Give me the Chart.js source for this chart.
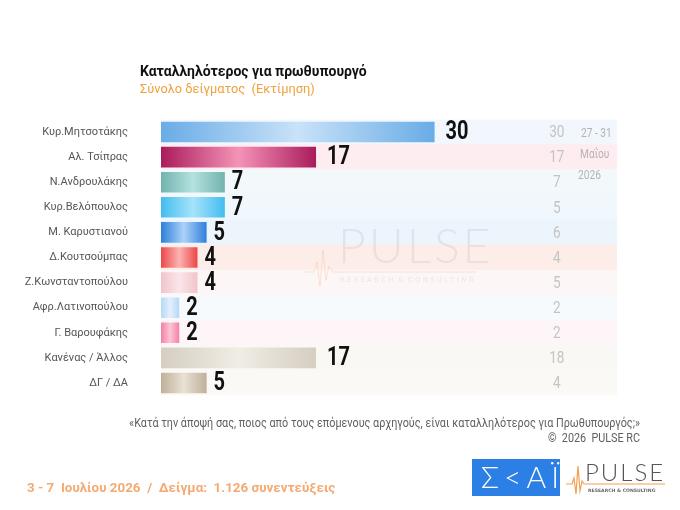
<!doctype html>
<html lang="el">
<head>
<meta charset="utf-8">
<title>Καταλληλότερος για πρωθυπουργό</title>
<script src="https://cdn.jsdelivr.net/npm/chart.js@4.4.1/dist/chart.umd.min.js"></script>
<style>
  html, body { margin: 0; padding: 0; background: #fff; }
  #wrap { width: 680px; height: 510px; position: relative; }
</style>
<script>
  // data
  var categories = ['Κυρ.Μητσοτάκης', 'Αλ. Τσίπρας', 'Ν.Ανδρουλάκης', 'Κυρ.Βελόπουλος', 'Μ. Καρυστιανού',
    'Δ.Κουτσούμπας', 'Ζ.Κωνσταντοπούλου', 'Αφρ.Λατινοπούλου', 'Γ. Βαρουφάκης', 'Κανένας / Άλλος', 'ΔΓ / ΔΑ'];
  var current = [30, 17, 7, 7, 5, 4, 4, 2, 2, 17, 5];      // 3-7 Ιουλίου 2026
  var previous = [30, 17, 7, 5, 6, 4, 5, 2, 2, 18, 4];     // 27-31 Μαΐου 2026
  var scaleMax = 50;
  var stripeValues = categories.map(function () { return scaleMax; });

  // bar colours: edge, centre
  var barEdge = ['#69ace6', '#a91c5c', '#72b3ae', '#43bdef', '#2f7fdb', '#ee4646',
    '#f0c4ca', '#b6d8f4', '#f481a5', '#d5cec1', '#bfb09a'];
  var barMid = ['#c9e2f8', '#f593b7', '#b4e2df', '#a6e3fa', '#abd2f8', '#fbb3b3',
    '#fbe6e9', '#e3f0fc', '#fcc5d6', '#f0ede5', '#e9e1d3'];
  var stripeColors = ['#f1f7fd', '#fdedf0', '#f3f8fb', '#f0f7fd', '#ecf4fc', '#fdede9',
    '#fdf6f7', '#f7fafd', '#fdf5f8', '#faf8f5', '#fbf9f5'];
</script>
</head>
<body>
<div id="wrap"><canvas id="myChart"></canvas></div>
<script>
  function barGradient(context) {
    var chart = context.chart;
    var i = context.dataIndex;
    if (!chart.chartArea) return barEdge[i];
    var xs = chart.scales.x;
    var x0 = xs.getPixelForValue(0);
    var x1 = xs.getPixelForValue(current[i]);
    var g = chart.ctx.createLinearGradient(x0, 0, x1, 0);
    g.addColorStop(0, barEdge[i]);
    g.addColorStop(0.5, barMid[i]);
    g.addColorStop(1, barEdge[i]);
    return g;
  }

  // text squeezed horizontally, to get a condensed look out of Roboto
  function narrowText(c, text, x, y, sx, align) {
    c.save();
    c.translate(x, y);
    c.scale(sx, 1);
    c.textAlign = align || 'left';
    c.fillText(text, 0, 0);
    c.restore();
  }

  // texts, watermark, logos and value labels
  var decorations = {
    id: 'decorations',
    afterDatasetsDraw: function (chart) {
      var c = chart.ctx;
      var xs = chart.scales.x;
      var meta = chart.getDatasetMeta(0);
      c.save();
      // faint PULSE watermark
      c.fillStyle = 'rgba(150,150,160,0.16)';
      c.font = '300 48px Lato, "DejaVu Sans", sans-serif';
      c.textBaseline = 'alphabetic';
      c.letterSpacing = '3px';
      narrowText(c, 'PULSE', 338, 263, 1);
      c.letterSpacing = '0px';
      c.font = '7px "DejaVu Sans", sans-serif';
      c.fillStyle = 'rgba(160,160,170,0.2)';
      c.fillText('R E S E A R C H  &  C O N S U L T I N G', 340, 282);
      c.strokeStyle = 'rgba(245,160,100,0.25)';
      c.lineWidth = 1;
      c.beginPath();
      c.moveTo(305, 272); c.lineTo(314, 272); c.lineTo(317, 262); c.lineTo(320, 286);
      c.lineTo(323, 250); c.lineTo(326, 280); c.lineTo(329, 266); c.lineTo(333, 272); c.lineTo(476, 272);
      c.stroke();

      c.textBaseline = 'middle';
      meta.data.forEach(function (bar, i) {
        c.font = 'bold 25px Roboto, sans-serif';
        c.fillStyle = '#111';
        var gap = current[i] >= 10 ? 11 : 7;
        narrowText(c, String(current[i]), bar.x + gap, bar.y + 1, 0.8, 'left');
        c.font = '17px Roboto, sans-serif';
        c.fillStyle = '#c4c4c4';
        narrowText(c, String(previous[i]), xs.getPixelForValue(43.4), bar.y + 1, 0.8, 'center');
      });
      c.font = '12px Roboto, sans-serif';
      c.fillStyle = '#b4b4b4';
      narrowText(c, '27 - 31', 581, 134, 0.85);
      narrowText(c, 'Μαΐου', 580, 155, 0.85);
      narrowText(c, '2026', 578, 176, 0.85);
      c.restore();
    },
    afterDraw: function (chart) {
      var c = chart.ctx;
      c.save();
      c.textBaseline = 'alphabetic';
      c.textAlign = 'left';
      c.fillStyle = '#111';
      c.font = 'bold 14px Roboto, sans-serif';
      c.fillText('Καταλληλότερος για πρωθυπουργό', 140, 76);
      c.fillStyle = '#f0a03c';
      c.font = '12.8px Roboto, sans-serif';
      c.fillText('Σύνολο δείγματος  (Εκτίμηση)', 140, 93);

      c.fillStyle = '#606060';
      c.font = '12px Roboto, sans-serif';
      narrowText(c, '«Κατά την άποψή σας, ποιος από τους επόμενους αρχηγούς, είναι καταλληλότερος για Πρωθυπουργός;»', 640, 427, 0.9, 'right');
      narrowText(c, '©  2026  PULSE RC', 640, 442, 0.9, 'right');

      c.fillStyle = '#f4aa72';
      c.font = 'bold 13.4px Roboto, sans-serif';
      c.fillText('3 - 7  Ιουλίου 2026  /  Δείγμα:  1.126 συνεντεύξεις', 27, 492);

      // ΣΚΑΪ logo
      c.fillStyle = '#2c7fe4';
      c.fillRect(472, 459, 88, 37);
      c.fillStyle = '#fff';
      c.font = '300 30px Lato, "DejaVu Sans", sans-serif';
      c.letterSpacing = '5px';
      c.textAlign = 'left';
      c.fillText('Σ<ΑΪ', 481, 488);

      // PULSE logo
      c.fillStyle = '#555';
      c.font = '300 24px Lato, "DejaVu Sans", sans-serif';
      c.letterSpacing = '2px';
      c.fillText('PULSE', 585, 481);
      c.letterSpacing = '0px';
      c.strokeStyle = '#f2a052';
      c.lineWidth = 1.2;
      c.beginPath();
      c.moveTo(566, 484); c.lineTo(572, 484); c.lineTo(574, 478); c.lineTo(576, 494);
      c.lineTo(578, 466); c.lineTo(580, 491); c.lineTo(582, 481); c.lineTo(584, 484); c.lineTo(665, 484);
      c.stroke();
      c.fillStyle = '#666';
      c.font = 'bold 4.6px "DejaVu Sans", sans-serif';
      c.fillText('RESEARCH & CONSULTING', 588, 492);
      c.restore();
    }
  };

  var ctx = document.getElementById('myChart');
  var chart = new Chart(ctx, {
    type: 'bar',
    data: {
      labels: categories,
      datasets: [
        {
          label: 'current',
          data: current,
          backgroundColor: barGradient,
          borderWidth: 0,
          barPercentage: 0.82,
          categoryPercentage: 1
        },
        {
          label: 'stripes',
          data: stripeValues,
          backgroundColor: stripeColors,
          borderWidth: 0,
          barPercentage: 1,
          categoryPercentage: 1
        }
      ]
    },
    options: {
      indexAxis: 'y',
      responsive: true,
      maintainAspectRatio: false,
      animation: false,
      devicePixelRatio: 1,
      layout: { padding: { left: 0, top: 119.5, right: 63, bottom: 114.5 } },
      plugins: {
        legend: { display: false },
        tooltip: { enabled: false }
      },
      datasets: { bar: { grouped: false } },
      scales: {
        x: { display: false, min: 0, max: scaleMax },
        y: {
          afterFit: function (scale) { scale.width = 161; },
          grid: { display: false, drawTicks: false },
          border: { display: false },
          ticks: {
            padding: 33,
            color: '#555',
            font: { family: 'Roboto, sans-serif', size: 11 }
          }
        }
      }
    },
    plugins: [decorations]
  });
</script>
</body>
</html>
